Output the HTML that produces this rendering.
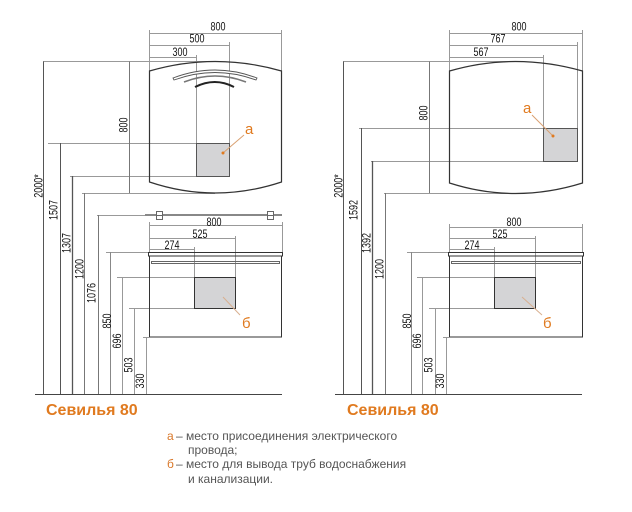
<!DOCTYPE html>
<html><head><meta charset="utf-8"><style>
html,body{margin:0;padding:0;background:#fff;}
svg{display:block;}
.d{font-family:"Liberation Sans",sans-serif;font-size:12px;fill:#111;}
.t{font-family:"Liberation Sans",sans-serif;font-size:16px;font-weight:bold;fill:#e07a1f;}
.o{font-family:"Liberation Sans",sans-serif;font-size:15px;fill:#e07a1f;}
.l{font-family:"Liberation Sans","Noto Sans CJK SC",sans-serif;font-size:12px;fill:#555;}
.lo{font-family:"Liberation Sans",sans-serif;font-size:12px;fill:#d9782a;}
</style></head><body>
<svg width="632" height="512" viewBox="0 0 632 512" xmlns="http://www.w3.org/2000/svg">
<rect width="632" height="512" fill="#fff"/>

<!-- ===== LEFT ===== -->
<g fill="none" stroke-width="1">
 <g stroke="#999">
  <line x1="149" y1="33.5" x2="282" y2="33.5"/>
  <line x1="149" y1="45.5" x2="229" y2="45.5"/>
  <line x1="149" y1="57.5" x2="196" y2="57.5"/>
  <line x1="149.5" y1="30" x2="149.5" y2="71"/>
  <line x1="281.5" y1="30" x2="281.5" y2="71"/>
  <line x1="229.5" y1="42" x2="229.5" y2="176"/>
  <line x1="196.5" y1="55" x2="196.5" y2="143"/>
  <line x1="43" y1="61.5" x2="215" y2="61.5"/>
  <line x1="48" y1="143.5" x2="229" y2="143.5"/>
  <line x1="70" y1="176.5" x2="229" y2="176.5"/>
  <line x1="82" y1="193.5" x2="215" y2="193.5"/>
  <line x1="97" y1="215.5" x2="145" y2="215.5"/>
  <line x1="149" y1="225.5" x2="282" y2="225.5"/>
  <line x1="149" y1="238.5" x2="236" y2="238.5"/>
  <line x1="149" y1="249.5" x2="194" y2="249.5"/>
  <line x1="282.5" y1="222" x2="282.5" y2="252"/>
  <line x1="149.5" y1="222" x2="149.5" y2="252"/>
  <line x1="235.5" y1="236" x2="235.5" y2="277"/>
  <line x1="194.5" y1="247" x2="194.5" y2="277"/>
  <line x1="106" y1="252.5" x2="149" y2="252.5"/>
  <line x1="117" y1="277.5" x2="194" y2="277.5"/>
  <line x1="129" y1="308.5" x2="194" y2="308.5"/>
  <line x1="143" y1="337.5" x2="149" y2="337.5"/>
 </g>
 <g stroke="#555">
  <line x1="43.5" y1="61.5" x2="43.5" y2="394"/>
  <line x1="129.5" y1="61.5" x2="129.5" y2="193" stroke="#777"/>
  <line x1="60.5" y1="143" x2="60.5" y2="394"/>
  <line x1="72.5" y1="176" x2="72.5" y2="394" stroke-width="1.3"/>
  <line x1="84.5" y1="193" x2="84.5" y2="394" stroke="#777"/>
  <line x1="98.5" y1="215" x2="98.5" y2="394" stroke="#777"/>
  <line x1="110.5" y1="252" x2="110.5" y2="394" stroke="#888"/>
  <line x1="122.5" y1="277" x2="122.5" y2="394" stroke="#999"/>
  <line x1="134.5" y1="308" x2="134.5" y2="394" stroke="#999"/>
  <line x1="146.5" y1="337" x2="146.5" y2="394" stroke="#999"/>
 </g>
 <line x1="35" y1="394.5" x2="282" y2="394.5" stroke="#444"/>
 <path d="M149.5,71 Q215,52 281.5,71 L281.5,182 Q215,204 149.5,182 Z" stroke="#333" stroke-width="1.2"/>
 <path d="M173,78 Q215,62 257,78 L256,80 Q215,65 174,80 Z" stroke="#555" stroke-width="0.9" fill="#fff"/>
 <path d="M184,82 Q215,70 246,82" stroke="#777" stroke-width="1.6"/>
 <path d="M195,87 Q215,77 234,87" stroke="#222" stroke-width="2"/>
 <rect x="196.5" y="143.5" width="33" height="33" fill="#d4d4d6" stroke="#555"/>
 <line x1="145" y1="215" x2="282" y2="215" stroke="#888" stroke-width="2"/>
 <rect x="156.5" y="211.5" width="6" height="8" fill="#fff" stroke="#666"/>
 <line x1="156.5" y1="215.5" x2="162.5" y2="215.5" stroke="#666"/>
 <rect x="267.5" y="211.5" width="6" height="8" fill="#fff" stroke="#666"/>
 <line x1="267.5" y1="215.5" x2="273.5" y2="215.5" stroke="#666"/>
 <rect x="148.5" y="252.5" width="134" height="3.5" stroke="#333"/>
 <rect x="151.5" y="261.5" width="128" height="2" stroke="#666"/>
 <rect x="149.5" y="256" width="132" height="81" stroke="#333"/>
 <rect x="194.5" y="277.5" width="41" height="31" fill="#d4d4d6" stroke="#333"/>
 <line x1="223" y1="153" x2="244" y2="135" stroke="#d9a070"/>
 <circle cx="223" cy="153" r="1.5" fill="#e07a1f" stroke="none"/>
 <line x1="223" y1="297" x2="240" y2="315" stroke="#d9b090"/>
</g>

<text class="d" transform="translate(218,30.5) scale(0.75,1)" text-anchor="middle">800</text>
<text class="d" transform="translate(197,42.5) scale(0.75,1)" text-anchor="middle">500</text>
<text class="d" transform="translate(180,56) scale(0.75,1)" text-anchor="middle">300</text>
<text class="d" transform="translate(214,226) scale(0.75,1)" text-anchor="middle">800</text>
<text class="d" transform="translate(200,238) scale(0.75,1)" text-anchor="middle">525</text>
<text class="d" transform="translate(172,249) scale(0.75,1)" text-anchor="middle">274</text>
<g class="d" text-anchor="middle">
 <text transform="translate(123,125) rotate(-90) scale(0.75,1)" y="4.3">800</text>
 <text transform="translate(38,186) rotate(-90) scale(0.75,1)" y="4.3">2000*</text>
 <text transform="translate(53,210) rotate(-90) scale(0.75,1)" y="4.3">1507</text>
 <text transform="translate(66,243) rotate(-90) scale(0.75,1)" y="4.3">1307</text>
 <text transform="translate(79,269) rotate(-90) scale(0.75,1)" y="4.3">1200</text>
 <text transform="translate(91,293) rotate(-90) scale(0.75,1)" y="4.3">1076</text>
 <text transform="translate(106.5,321) rotate(-90) scale(0.75,1)" y="4.3">850</text>
 <text transform="translate(116.5,341) rotate(-90) scale(0.75,1)" y="4.3">696</text>
 <text transform="translate(128,365) rotate(-90) scale(0.75,1)" y="4.3">503</text>
 <text transform="translate(139.5,381) rotate(-90) scale(0.75,1)" y="4.3">330</text>
</g>
<text class="o" x="245" y="134">а</text>
<text class="o" x="242" y="328">б</text>
<text class="t" x="46" y="415">Севилья 80</text>

<!-- ===== RIGHT ===== -->
<g fill="none" stroke-width="1">
 <g stroke="#999">
  <line x1="449" y1="33.5" x2="582" y2="33.5"/>
  <line x1="449" y1="45.5" x2="577" y2="45.5"/>
  <line x1="449" y1="57.5" x2="543" y2="57.5"/>
  <line x1="449.5" y1="30" x2="449.5" y2="71"/>
  <line x1="582.5" y1="30" x2="582.5" y2="71"/>
  <line x1="577.5" y1="42" x2="577.5" y2="161"/>
  <line x1="543.5" y1="55" x2="543.5" y2="128"/>
  <line x1="343" y1="61.5" x2="515" y2="61.5"/>
  <line x1="359" y1="128.5" x2="577" y2="128.5"/>
  <line x1="371" y1="161.5" x2="577" y2="161.5"/>
  <line x1="384" y1="193.5" x2="515" y2="193.5"/>
  <line x1="449" y1="227.5" x2="582" y2="227.5"/>
  <line x1="449" y1="238.5" x2="535" y2="238.5"/>
  <line x1="449" y1="249.5" x2="494" y2="249.5"/>
  <line x1="582.5" y1="224" x2="582.5" y2="252"/>
  <line x1="449.5" y1="224" x2="449.5" y2="252"/>
  <line x1="535.5" y1="236" x2="535.5" y2="277"/>
  <line x1="494.5" y1="247" x2="494.5" y2="277"/>
  <line x1="407" y1="252.5" x2="449" y2="252.5"/>
  <line x1="417" y1="277.5" x2="494" y2="277.5"/>
  <line x1="429" y1="308.5" x2="494" y2="308.5"/>
  <line x1="443" y1="337.5" x2="449" y2="337.5"/>
 </g>
 <g stroke="#555">
  <line x1="343.5" y1="61.5" x2="343.5" y2="394"/>
  <line x1="429.5" y1="61.5" x2="429.5" y2="193" stroke="#777"/>
  <line x1="361.5" y1="128" x2="361.5" y2="394"/>
  <line x1="372.5" y1="161" x2="372.5" y2="394" stroke-width="1.3"/>
  <line x1="385.5" y1="193" x2="385.5" y2="394" stroke="#777"/>
  <line x1="411.5" y1="252" x2="411.5" y2="394" stroke="#888"/>
  <line x1="422.5" y1="277" x2="422.5" y2="394" stroke="#999"/>
  <line x1="435.5" y1="308" x2="435.5" y2="394" stroke="#999"/>
  <line x1="446.5" y1="337" x2="446.5" y2="394" stroke="#999"/>
 </g>
 <line x1="335" y1="394.5" x2="582" y2="394.5" stroke="#444"/>
 <path d="M449.5,71 Q515,52 582.5,71 L582.5,183 Q515,204 449.5,183 Z" stroke="#333" stroke-width="1.2"/>
 <rect x="543.5" y="128.5" width="34" height="33" fill="#d4d4d6" stroke="#555"/>
 <rect x="448.5" y="252.5" width="135" height="3.5" stroke="#333"/>
 <rect x="451.5" y="261.5" width="129" height="2" stroke="#666"/>
 <rect x="449.5" y="256" width="133" height="81" stroke="#333"/>
 <rect x="494.5" y="277.5" width="41" height="31" fill="#d4d4d6" stroke="#333"/>
 <line x1="532" y1="115" x2="553" y2="136" stroke="#d9a070"/>
 <circle cx="553" cy="136" r="1.5" fill="#e07a1f" stroke="none"/>
 <line x1="522" y1="297" x2="542" y2="315" stroke="#d9b090"/>
</g>

<text class="d" transform="translate(519,30.5) scale(0.75,1)" text-anchor="middle">800</text>
<text class="d" transform="translate(498,42.5) scale(0.75,1)" text-anchor="middle">767</text>
<text class="d" transform="translate(481,56) scale(0.75,1)" text-anchor="middle">567</text>
<text class="d" transform="translate(514,226) scale(0.75,1)" text-anchor="middle">800</text>
<text class="d" transform="translate(500,238) scale(0.75,1)" text-anchor="middle">525</text>
<text class="d" transform="translate(472,249) scale(0.75,1)" text-anchor="middle">274</text>
<g class="d" text-anchor="middle">
 <text transform="translate(423,113) rotate(-90) scale(0.75,1)" y="4.3">800</text>
 <text transform="translate(338,186) rotate(-90) scale(0.75,1)" y="4.3">2000*</text>
 <text transform="translate(353,210) rotate(-90) scale(0.75,1)" y="4.3">1592</text>
 <text transform="translate(366,243) rotate(-90) scale(0.75,1)" y="4.3">1392</text>
 <text transform="translate(379,269) rotate(-90) scale(0.75,1)" y="4.3">1200</text>
 <text transform="translate(406.5,321) rotate(-90) scale(0.75,1)" y="4.3">850</text>
 <text transform="translate(416.5,341) rotate(-90) scale(0.75,1)" y="4.3">696</text>
 <text transform="translate(428,365) rotate(-90) scale(0.75,1)" y="4.3">503</text>
 <text transform="translate(439.5,381) rotate(-90) scale(0.75,1)" y="4.3">330</text>
</g>
<text class="o" x="523" y="113">а</text>
<text class="o" x="543" y="328">б</text>
<text class="t" x="347" y="415">Севилья 80</text>

<!-- legend -->
<text class="lo" x="167" y="440">а</text>
<text class="l" x="176" y="440">– место присоединения электрического</text>
<text class="l" x="188" y="454">провода;</text>
<text class="lo" x="167" y="468">б</text>
<text class="l" x="176" y="468">– место для вывода труб водоснабжения</text>
<text class="l" x="188" y="483">и канализации.</text>
</svg>
</body></html>
